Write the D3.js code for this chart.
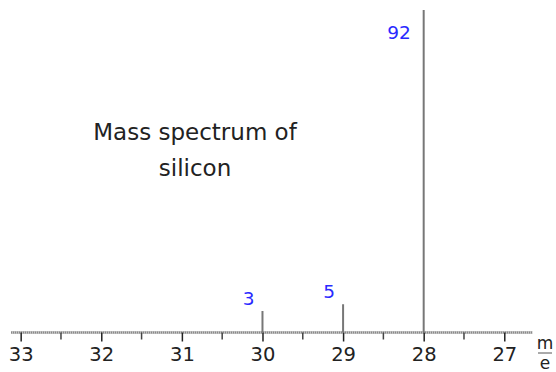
<!DOCTYPE html>
<html lang="en">
<head>
<meta charset="UTF-8">
<title>Mass spectrum of silicon</title>
<style>
  body { margin: 0; background: #fff; }
  svg { display: block; font-family: "DejaVu Sans", Verdana, sans-serif; }
</style>
</head>
<body>
<script src="https://cdn.jsdelivr.net/npm/d3@7"></script>
<script>
const massValues = [30, 29, 28];
const abundances = [3, 5, 92];
const tickValues = [33, 32, 31, 30, 29, 28, 27];
const halfTicks = [32.5, 31.5, 30.5, 29.5, 28.5, 27.5];
const titleLines = ['Mass spectrum of', 'silicon'];

const w = 556;
const h = 372;
const axisY = 332.5;

const svg = d3.select('body')
    .append('svg')
    .attr('width', w)
    .attr('height', h);

// m/e runs backwards: 33 on the left
const xScale = d3.scaleLinear()
    .domain([33.12, 26.65])
    .range([11, 532.5]);

// small peaks are drawn a bit taller than true scale, as in the original
const yScale = d3.scaleLinear()
    .domain([0, 3, 92])
    .range([axisY, axisY - 21.5, 10]);

// axis line with its dotted texture
svg.append('line')
    .attr('x1', xScale.range()[0]).attr('x2', xScale.range()[1])
    .attr('y1', axisY).attr('y2', axisY)
    .attr('stroke', '#c4c4c4')
    .attr('stroke-width', 3);
svg.append('line')
    .attr('x1', xScale.range()[0]).attr('x2', xScale.range()[1])
    .attr('y1', axisY).attr('y2', axisY)
    .attr('stroke', '#8a8a8a')
    .attr('stroke-width', 2)
    .attr('stroke-dasharray', '1,1');

const xAxis = d3.axisBottom(xScale)
    .tickValues(tickValues)
    .tickSize(9)
    .tickPadding(6)
    .tickFormat(d3.format('d'));

const gx = svg.append('g')
    .attr('transform', `translate(0,${axisY})`)
    .call(xAxis);
gx.select('.domain').remove();
gx.selectAll('.tick line').attr('stroke', '#222').attr('stroke-width', 1.5);
gx.selectAll('.tick text')
    .attr('fill', '#222')
    .style('font-size', '19.5px')
    .style('font-family', '"DejaVu Sans", Verdana, sans-serif');

svg.append('g')
    .selectAll('line')
    .data(halfTicks)
    .enter()
    .append('line')
    .attr('x1', d => xScale(d)).attr('x2', d => xScale(d))
    .attr('y1', axisY).attr('y2', axisY + 7)
    .attr('stroke', '#444')
    .attr('stroke-width', 1.5);

const peaks = massValues.map((m, i) => ({ m: m, v: abundances[i] }));

svg.append('g')
    .selectAll('line')
    .data(peaks)
    .enter()
    .append('line')
    .attr('x1', d => xScale(d.m)).attr('x2', d => xScale(d.m))
    .attr('y1', axisY)
    .attr('y2', d => yScale(d.v))
    .attr('stroke', '#777')
    .attr('stroke-width', 2);

svg.append('g')
    .selectAll('text')
    .data(peaks)
    .enter()
    .append('text')
    .attr('x', d => xScale(d.m) - (d.v > 50 ? 13 : 8))
    .attr('y', d => yScale(d.v) + (d.v > 50 ? 29 : -6))
    .attr('text-anchor', 'end')
    .attr('fill', '#2a2aff')
    .style('font-size', '18.5px')
    .text(d => d.v);

// title
svg.append('text')
    .attr('x', 195)
    .attr('text-anchor', 'middle')
    .attr('fill', '#222')
    .style('font-size', '23px')
    .selectAll('tspan')
    .data(titleLines)
    .enter()
    .append('tspan')
    .attr('x', 195)
    .attr('y', (d, i) => 140 + i * 36)
    .text(d => d);

// m/e unit
const unit = svg.append('g').attr('transform', 'translate(545,0)');
unit.append('text')
    .attr('y', 349).attr('text-anchor', 'middle')
    .attr('fill', '#222').style('font-size', '17px')
    .text('m');
unit.append('line')
    .attr('x1', -7).attr('x2', 7)
    .attr('y1', 353).attr('y2', 353)
    .attr('stroke', '#555').attr('stroke-width', 1);
unit.append('text')
    .attr('y', 369).attr('text-anchor', 'middle')
    .attr('fill', '#222').style('font-size', '17px')
    .text('e');
</script>
</body>
</html>
